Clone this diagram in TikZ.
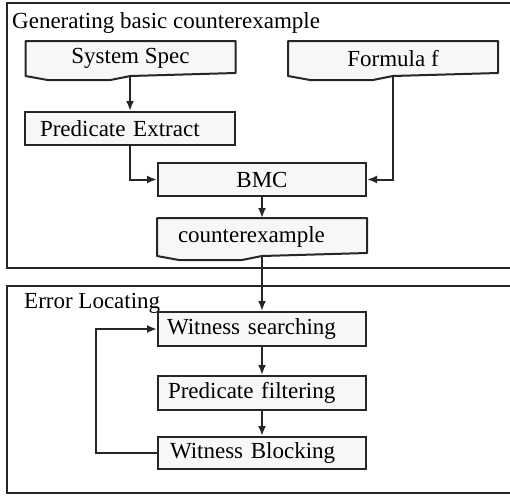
\documentclass[tikz,border=0pt]{standalone}
\usepackage{fontspec}
\setmainfont{Liberation Serif}
\usetikzlibrary{arrows.meta,backgrounds}

\tikzset{
  frame/.style={draw=black!85,line width=2.4pt},
  stepbox/.style={draw=black!85,fill=black!3,line width=2pt,minimum width=208pt,
    minimum height=33pt,inner sep=0pt,font=\fontsize{23}{25}\selectfont},
  docbox/.style={stepbox,draw=none,fill=none},
  leftbox/.style={align=left,inner xsep=#1},
  flow/.style={draw=black!85,line width=2pt,-{Latex[length=10pt,width=8pt]}},
  title/.style={anchor=base west,inner sep=0pt,font=\fontsize{23}{25}\selectfont}
}

% document shape: box with a wavy bottom
\newcommand{\docoutline}[1]{%
  \filldraw[draw=black!85,fill=black!3,line width=2pt,line join=round]
    (#1.north west) -- (#1.north east) -- ([shift={(0,-3)}]#1.south east)
    -- ([shift={(105,0)}]#1.south west) -- ([shift={(85,4)}]#1.south west)
    -- ([shift={(22,4)}]#1.south west) -- (#1.south west) -- cycle;}

\begin{document}
\begin{tikzpicture}[x=1pt,y=-1pt]

  \useasboundingbox (0,0) rectangle (510,496);
  \clip (0,0) rectangle (510,496);

  % the two stages
  \draw[frame] (7,3) rectangle (530,268);
  \draw[frame] (7,286) rectangle (530,493);

  \node[title] (gentitle) at (12,28) {Generating basic counterexample};
  \node[title] (errtitle) at (24,308) {Error Locating};

  \node[docbox] (spec)    at (130.5,58.5) {System Spec};
  \node[docbox] (formula) at (393,58.5)   {Formula f};
  \node[stepbox,leftbox=15pt,text width=180pt] (pred) at (130,128.5) {Predicate Extract};
  \node[stepbox] (bmc) at (262,179.5) {BMC};
  \node[docbox,leftbox=20pt,text width=168pt,minimum height=36pt] (cex) at (262,237) {counterexample};

  \node[stepbox,leftbox=9pt,text width=190pt,minimum height=34pt] (ws) at (262,329) {Witness searching};
  \node[stepbox,leftbox=10pt,text width=188pt,minimum height=34pt] (pf) at (262,393) {Predicate filtering};
  \node[stepbox,leftbox=12pt,text width=184pt,minimum height=32pt] (wb) at (262,453) {Witness Blocking};

  \begin{scope}[on background layer]
    \docoutline{spec}
    \docoutline{formula}
    \docoutline{cex}
  \end{scope}

  \draw[flow] (pred.north |- spec.south) -- (pred.north);
  \draw[flow] (pred.south) |- (bmc.west);
  \draw[flow] (formula.south) |- (bmc.east);
  \draw[flow] (bmc) -- (cex);
  \draw[flow] (cex.south) -- (ws.north);
  \draw[flow] (ws) -- (pf);
  \draw[flow] (pf) -- (wb);
  \draw[flow] (wb.west) -- ++(-61,0) |- (ws.west);

\end{tikzpicture}
\end{document}
